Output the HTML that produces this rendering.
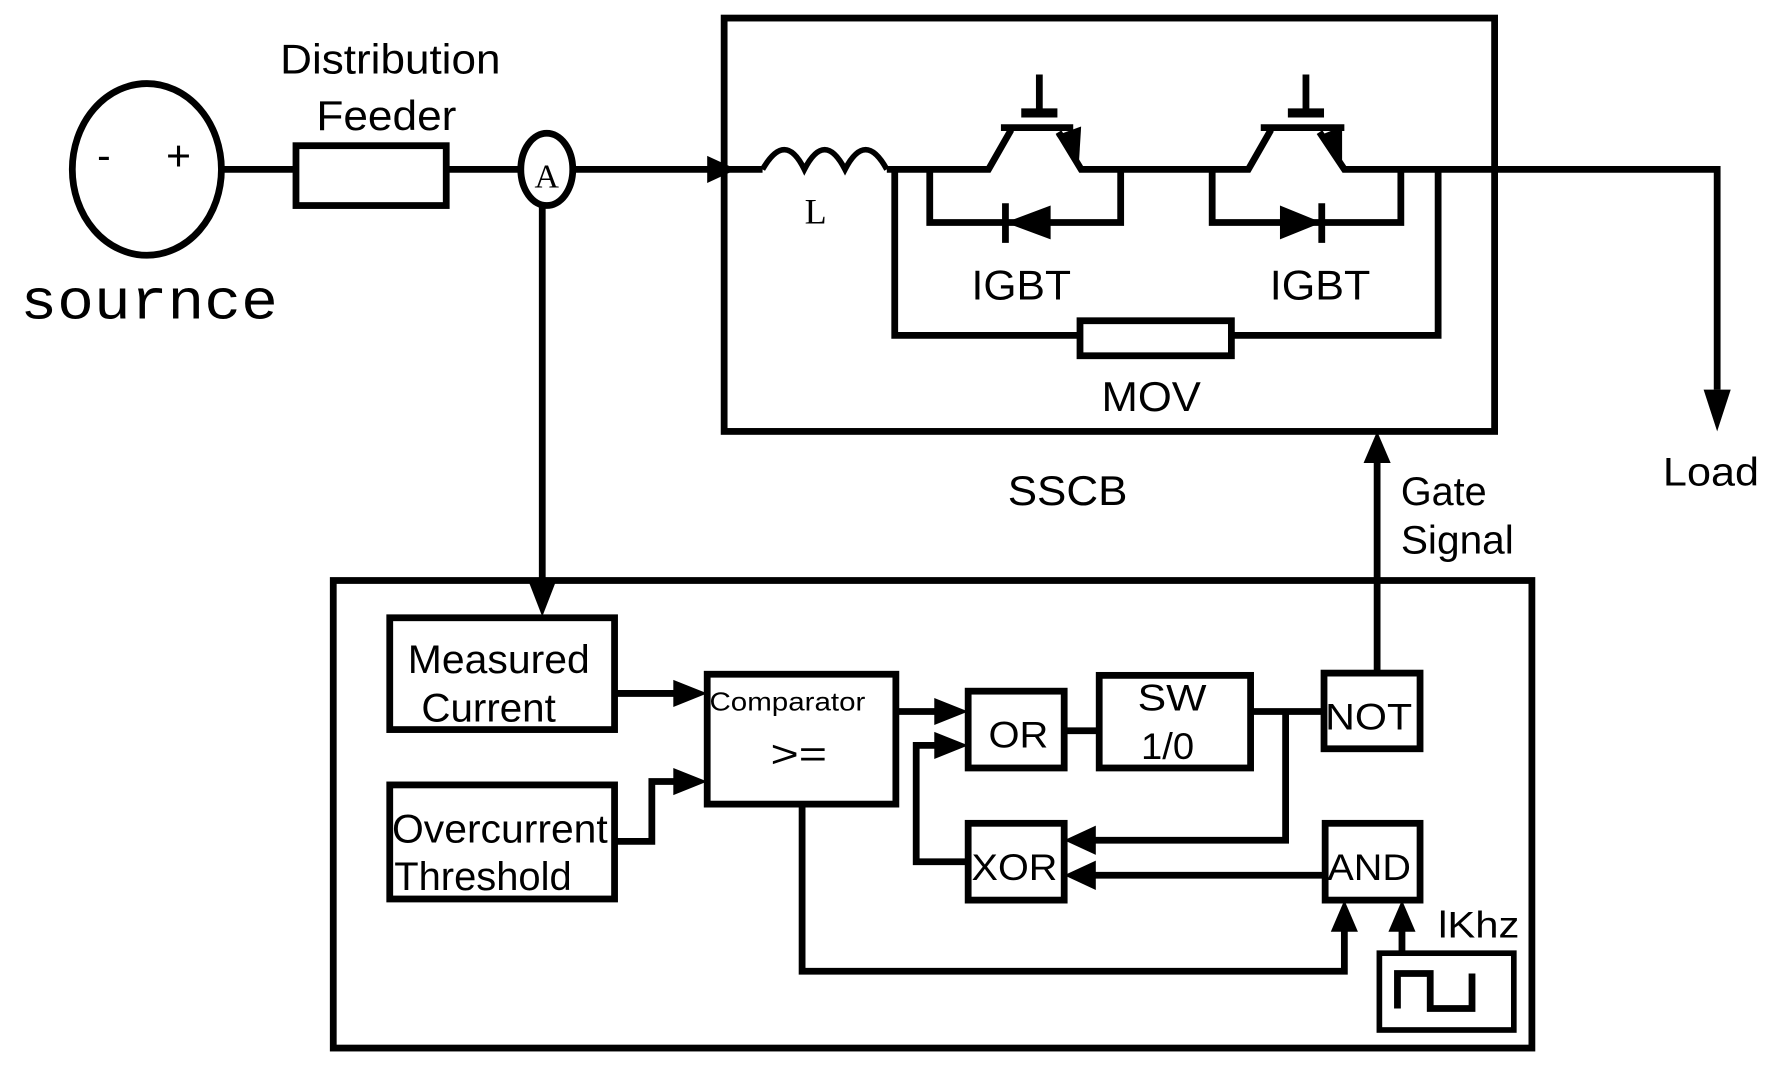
<!DOCTYPE html>
<html><head><meta charset="utf-8"><style>
html,body{margin:0;padding:0;background:#fff;overflow:hidden}
svg{display:block}
text{font-family:"Liberation Sans",Arial,sans-serif;fill:#000}
</style></head><body>
<svg width="1768" height="1065" viewBox="0 0 1565 943" preserveAspectRatio="none" xmlns="http://www.w3.org/2000/svg">
<g fill="none" stroke="#000" stroke-width="6">
<ellipse cx="130" cy="150" rx="66" ry="76"/>
<line x1="196" y1="150" x2="260" y2="150"/>
<rect x="262" y="129" width="133" height="53"/>
<line x1="395" y1="150" x2="461" y2="150"/>
<ellipse cx="484" cy="150" rx="23" ry="32"/>
<line x1="507" y1="150" x2="675" y2="150"/>
<path d="M675 150 Q695 115 712 150 Q730 115 748 150 Q766 115 785 150" stroke-width="5"/>
<rect x="641" y="16" width="682" height="366"/>
<polyline points="785,150 875,150 895,115"/>
<line x1="886" y1="113" x2="950" y2="113"/>
<line x1="920" y1="66" x2="920" y2="100"/>
<line x1="904" y1="100" x2="936" y2="100" stroke-width="8"/>
<polyline points="937,117 957,150 1105,150 1125,115"/>
<line x1="1116" y1="113" x2="1190" y2="113"/>
<line x1="1156" y1="66" x2="1156" y2="100"/>
<line x1="1140" y1="100" x2="1172" y2="100" stroke-width="8"/>
<polyline points="1168,117 1190,150 1520,150 1520,345"/>
<polyline points="823,150 823,197 992,197 992,150"/>
<line x1="890" y1="180" x2="890" y2="215"/>
<polyline points="1073,150 1073,197 1240,197 1240,150"/>
<line x1="1170" y1="180" x2="1170" y2="215"/>
<polyline points="792,150 792,297 956,297"/>
<rect x="956" y="284" width="134" height="31"/>
<polyline points="1090,297 1273,297 1273,150"/>
<line x1="480" y1="182" x2="480" y2="520"/>
<line x1="1219" y1="595" x2="1219" y2="410"/>
<rect x="295" y="514" width="1061" height="414"/>
<rect x="345" y="547" width="199" height="99"/>
<rect x="345" y="695" width="199" height="101"/>
<rect x="626" y="597" width="167" height="115"/>
<rect x="857" y="612" width="85" height="68"/>
<rect x="973" y="598" width="134" height="82"/>
<rect x="1172" y="596" width="85" height="67"/>
<rect x="857" y="729" width="85" height="68"/>
<rect x="1173" y="729" width="84" height="68"/>
<rect x="1221" y="844" width="119" height="68" stroke-width="5"/>
<polyline points="1237,893 1237,862 1266,862 1266,893 1303,893 1303,862"/>
<line x1="544" y1="614" x2="600" y2="614"/>
<polyline points="544,745 577,745 577,692 600,692"/>
<line x1="793" y1="630" x2="832" y2="630"/>
<line x1="942" y1="647" x2="973" y2="647"/>
<line x1="1107" y1="630" x2="1172" y2="630"/>
<polyline points="1138,630 1138,744 965,744"/>
<line x1="1173" y1="775" x2="965" y2="775"/>
<polyline points="857,763 811,763 811,660 832,660"/>
<polyline points="710,712 710,860 1190,860 1190,823"/>
<line x1="1241" y1="844" x2="1241" y2="823"/>
</g>
<g fill="#000" stroke="none">
<polygon points="626,138 652,150 626,162"/>
<polygon points="1508,345 1532,345 1520,382"/>
<polygon points="1207,410 1231,410 1219,382"/>
<polygon points="468,515 492,515 480,546"/>
<polygon points="596,602 626,614 596,626"/>
<polygon points="596,680 626,692 596,704"/>
<polygon points="827,618 857,630 827,642"/>
<polygon points="827,648 857,660 827,672"/>
<polygon points="970,731 942,744 970,757"/>
<polygon points="970,762 942,775 970,788"/>
<polygon points="1178,825 1190,797 1202,825"/>
<polygon points="1229,825 1241,797 1253,825"/>
<polygon points="890,197 930,182 930,212"/>
<polygon points="1170,197 1133,182 1133,212"/>
<polygon points="935,120 957,112 955,145"/>
<polygon points="1168,120 1188,112 1188,145"/>
</g>
<text x="86" y="150" font-size="36">-</text>
<text x="147" y="151" font-size="38">+</text>
<text x="484" y="166" font-size="30" text-anchor="middle" style="font-family:'Liberation Serif',serif">A</text>
<text x="722" y="198" font-size="32" text-anchor="middle" style="font-family:'Liberation Serif',serif">L</text>
<text x="18" y="282" font-size="50" textLength="228" lengthAdjust="spacingAndGlyphs" style="font-family:'Liberation Mono',monospace" fill="#222">sournce</text>
<text x="248" y="65" font-size="37" textLength="195" lengthAdjust="spacingAndGlyphs">Distribution</text>
<text x="280" y="115" font-size="37" textLength="124" lengthAdjust="spacingAndGlyphs">Feeder</text>
<text x="860" y="265" font-size="37" textLength="88" lengthAdjust="spacingAndGlyphs">IGBT</text>
<text x="1124" y="265" font-size="37" textLength="89" lengthAdjust="spacingAndGlyphs">IGBT</text>
<text x="975" y="364" font-size="37" textLength="88" lengthAdjust="spacingAndGlyphs">MOV</text>
<text x="892" y="447" font-size="37" textLength="106" lengthAdjust="spacingAndGlyphs">SSCB</text>
<text x="1240" y="447" font-size="35" textLength="76" lengthAdjust="spacingAndGlyphs">Gate</text>
<text x="1240" y="490" font-size="35" textLength="100" lengthAdjust="spacingAndGlyphs">Signal</text>
<text x="1472" y="430" font-size="35" textLength="85" lengthAdjust="spacingAndGlyphs">Load</text>
<text x="361" y="596" font-size="35" textLength="161" lengthAdjust="spacingAndGlyphs">Measured</text>
<text x="373" y="639" font-size="35" textLength="119" lengthAdjust="spacingAndGlyphs">Current</text>
<text x="347" y="746" font-size="35" textLength="191" lengthAdjust="spacingAndGlyphs">Overcurrent</text>
<text x="349" y="788" font-size="35" textLength="157" lengthAdjust="spacingAndGlyphs">Threshold</text>
<text x="628" y="629" font-size="23" textLength="138" lengthAdjust="spacingAndGlyphs">Comparator</text>
<text x="682" y="679" font-size="34" textLength="50" lengthAdjust="spacingAndGlyphs">&gt;=</text>
<text x="875" y="662" font-size="33" textLength="53" lengthAdjust="spacingAndGlyphs">OR</text>
<text x="1007" y="629" font-size="33" textLength="61" lengthAdjust="spacingAndGlyphs">SW</text>
<text x="1010" y="672" font-size="33" textLength="47" lengthAdjust="spacingAndGlyphs">1/0</text>
<text x="1173" y="646" font-size="33" textLength="77" lengthAdjust="spacingAndGlyphs">NOT</text>
<text x="860" y="779" font-size="33" textLength="76" lengthAdjust="spacingAndGlyphs">XOR</text>
<text x="1175" y="779" font-size="33" textLength="74" lengthAdjust="spacingAndGlyphs">AND</text>
<text x="1273" y="830" font-size="33" textLength="72" lengthAdjust="spacingAndGlyphs">lKhz</text>
</svg>
</body></html>
